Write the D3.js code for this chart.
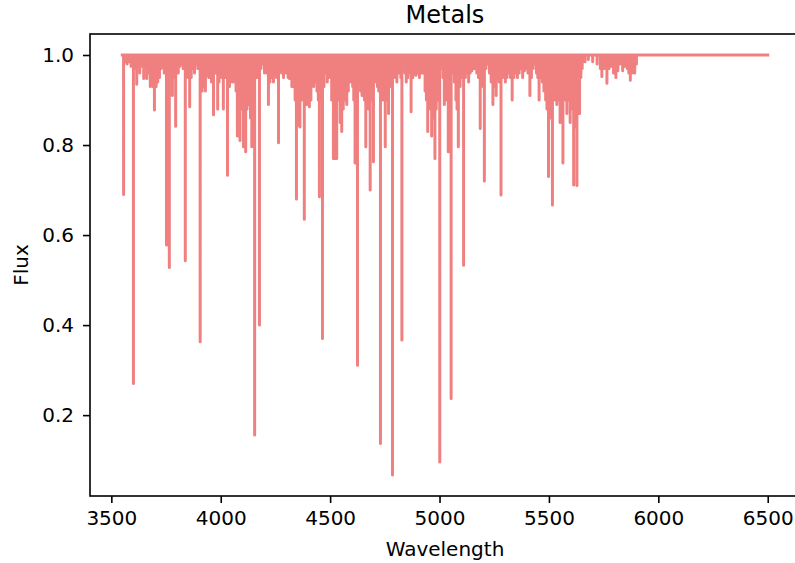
<!DOCTYPE html>
<html><head><meta charset="utf-8">
<script src="https://cdn.jsdelivr.net/npm/d3@7"></script>
<style>
body{margin:0;background:#fff}
svg{display:block}
text{font-family:"DejaVu Sans",sans-serif;fill:#000}
</style>
</head><body>
<svg id="chart" width="795" height="563"></svg>
<script>
// ---------------- data ----------------
const chartTitle = "Metals";
const xLabel = "Wavelength";
const yLabel = "Flux";
const xTickValues = [3500, 4000, 4500, 5000, 5500, 6000, 6500];
const yTickValues = [0.2, 0.4, 0.6, 0.8, 1.0];
const spectrumRange = [3550, 6500];   // first / last wavelength of the spectrum
const continuumFlux = 1.0;

// absorption lines: centre wavelength and minimum flux
const lineWavelength = [
 3556,3563,3572,3580,3590,3601,3610,3616,3623,3630,3640,3648,3655,3662,3670,3678,3685,3690,3697,
 3705,3712,3720,3728,3735,3742,3752,3758,3765,3772,3779,3786,3794,3800,3806,3813,3820,3828,3838,3845,3851,3858,3865,3872,3880,3888,3895,
 3906,3915,3922,3930,3938,3945,3952,3958,3967,3975,3986,3992,3998,4005,4012,4020,4026,4031,4040,4047,4053,4058,4064,4070,
 4076,4082,4088,4095,4099,4104,4109,4114,4120,4125,4130,4136,4142,4148,4155,
 4165,4177,4184,4190,4200,4206,4212,4218,4225,4232,4241,4248,4255,4264,4270,4278,4287,4294,4300,4308,4314,4320,4325,
 4333,4340,4346,4352,4356,4362,4370,4375,4382,4392,4398,4405,4412,4418,4425,4433,4440,4446,4451,4458,4465,
 4472,4480,4487,4494,4500,4507,4515,4522,4530,4540,4546,4553,4560,4567,4576,4583,4590,4596,4603,4608,4614,4625,
 4632,4639,4646,4652,4657,4663,4670,4676,4683,4690,4698,4705,4710,4716,4722,4730,4740,4745,4752,4758,4767,4773,4779,4785,4792,4798,4805,4812,4818,4823,4828,
 4835,4842,4848,4855,4862,4870,4878,4885,4892,4900,4908,4915,4922,4928,4934,4940,4946,4952,4958,4964,4970,4979,4985,4992,5001,
 5010,5016,5022,5028,5034,5040,5046,5053,5060,5068,5075,5080,5086,5094,5100,5110,5118,5125,5133,5140,5148,5155,5162,5170,5178,
 5186,5192,5198,5205,5212,5220,5228,5236,5244,5250,5259,5266,5273,5281,5288,5295,5301,5308,5316,5324,5332,5340,5348,5356,5364,5372,5380,5388,5396,5404,5413,5420,5428,5436,5443,5449,5455,5462,5470,5477,5485,5491,5498,
 5505,5510,5516,5523,5530,5536,5543,5551,5557,5564,5570,5576,5582,5589,5597,5604,5613,5620,5628,5635,5640,5646,5652,
 5665,5680,5700,5720,5735,5742,5752,5765,5775,5785,5795,5806,5815,5825,5837,5848,5858,5865,5872,5880,5892,5900
];
const lineFlux = [
 0.69,0.985,0.98,0.985,0.975,0.27,0.97,0.935,0.975,0.96,0.975,0.948,0.975,0.948,0.96,0.93,0.935,0.93,0.878,
 0.93,0.94,0.95,0.97,0.975,0.96,0.578,0.95,0.528,0.96,0.91,0.95,0.842,0.97,0.96,0.975,0.98,0.97,0.543,0.96,0.95,0.885,0.95,0.97,0.96,0.98,0.97,
 0.363,0.92,0.93,0.92,0.955,0.95,0.95,0.94,0.867,0.96,0.88,0.94,0.955,0.95,0.88,0.95,0.96,0.733,0.93,0.95,0.94,0.95,0.94,0.92,
 0.82,0.86,0.81,0.88,0.91,0.796,0.84,0.785,0.88,0.9,0.89,0.86,0.796,0.85,0.156,
 0.95,0.40,0.97,0.98,0.96,0.97,0.96,0.89,0.94,0.95,0.94,0.96,0.95,0.805,0.97,0.96,0.95,0.97,0.96,0.95,0.948,0.95,0.93,
 0.93,0.9,0.68,0.844,0.88,0.84,0.9,0.92,0.635,0.89,0.9,0.885,0.9,0.95,0.93,0.94,0.92,0.9,0.685,0.9,0.37,
 0.93,0.96,0.94,0.95,0.96,0.9,0.77,0.77,0.77,0.9,0.85,0.83,0.88,0.9,0.89,0.92,0.95,0.94,0.93,0.9,0.76,0.311,
 0.94,0.92,0.91,0.93,0.9,0.796,0.92,0.88,0.70,0.9,0.763,0.96,0.94,0.93,0.92,0.137,0.9,0.93,0.796,0.9,0.87,0.93,0.94,0.067,0.96,0.95,0.94,0.96,0.97,0.95,0.367,
 0.97,0.96,0.94,0.95,0.96,0.874,0.95,0.96,0.955,0.96,0.95,0.96,0.96,0.96,0.92,0.9,0.83,0.88,0.9,0.82,0.86,0.77,0.88,0.9,0.096,
 0.97,0.95,0.89,0.92,0.9,0.785,0.93,0.237,0.96,0.94,0.9,0.88,0.796,0.93,0.95,0.533,0.95,0.96,0.94,0.96,0.965,0.97,0.97,0.96,0.95,
 0.837,0.93,0.95,0.72,0.97,0.98,0.96,0.94,0.89,0.93,0.91,0.95,0.94,0.689,0.95,0.96,0.94,0.95,0.96,0.95,0.90,0.95,0.96,0.95,0.96,0.97,0.95,0.965,0.97,0.96,0.91,0.95,0.97,0.98,0.96,0.95,0.90,0.95,0.94,0.92,0.9,0.88,0.73,
 0.86,0.88,0.667,0.9,0.92,0.89,0.9,0.85,0.88,0.76,0.9,0.93,0.87,0.9,0.85,0.88,0.711,0.84,0.71,0.93,0.87,0.95,0.97,
 0.985,0.99,0.985,0.98,0.97,0.952,0.97,0.937,0.97,0.975,0.96,0.95,0.965,0.98,0.965,0.975,0.97,0.96,0.944,0.96,0.96,0.98
];

// ---------------- layout ----------------
const W = 795, H = 563;
const plot = {left: 90, right: 800, top: 34, bottom: 496};
const lineColor = "#f08080";

const svg = d3.select("#chart");

// spectrum points: continuum with a vertical dip at every line
const lines = d3.sort(lineWavelength.map((w, i) => ({w, f: lineFlux[i]})), d => d.w);
const pts = [{w: spectrumRange[0], f: continuumFlux}];
lines.forEach(l => {
  pts.push({w: l.w, f: continuumFlux}, {w: l.w, f: l.f}, {w: l.w, f: continuumFlux});
});
pts.push({w: spectrumRange[1], f: continuumFlux});

const [x0, x1] = d3.extent(pts, d => d.w);
const [y0, y1] = d3.extent(pts, d => d.f);
const x = d3.scaleLinear()
  .domain([x0 - 0.05 * (x1 - x0), x1 + 0.05 * (x1 - x0)])
  .range([plot.left, plot.right]);
const y = d3.scaleLinear()
  .domain([y0 - 0.05 * (y1 - y0), y1 + 0.05 * (y1 - y0)])
  .range([plot.bottom, plot.top]);

svg.append("defs").append("clipPath").attr("id", "clip")
  .append("rect").attr("x", plot.left).attr("y", plot.top)
  .attr("width", plot.right - plot.left).attr("height", plot.bottom - plot.top);

svg.append("path")
  .datum(pts)
  .attr("clip-path", "url(#clip)")
  .attr("fill", "none")
  .attr("stroke", lineColor)
  .attr("stroke-width", 3)
  .attr("stroke-linejoin", "round")
  .attr("stroke-linecap", "square")
  .attr("d", d3.line().x(d => x(d.w)).y(d => y(d.f)));

// axes
const xAxis = svg.append("g")
  .attr("transform", `translate(0,${plot.bottom})`)
  .call(d3.axisBottom(x).tickValues(xTickValues).tickFormat(d3.format("d")).tickSize(7).tickPadding(8));
const yAxis = svg.append("g")
  .attr("transform", `translate(${plot.left},0)`)
  .call(d3.axisLeft(y).tickValues(yTickValues).tickFormat(d3.format(".1f")).tickSize(7).tickPadding(9));
[xAxis, yAxis].forEach(g => {
  g.select(".domain").remove();
  g.selectAll(".tick line").attr("stroke", "#000").attr("stroke-width", 1.6);
  g.selectAll(".tick text").attr("font-size", 20).attr("font-family", "DejaVu Sans").attr("fill", "#000");
});

// spines
const spine = svg.append("g").attr("stroke", "#000").attr("stroke-width", 1.6).attr("fill", "none");
spine.append("rect").attr("x", plot.left).attr("y", plot.top)
  .attr("width", plot.right - plot.left).attr("height", plot.bottom - plot.top);

// labels
svg.append("text").attr("x", (plot.left + plot.right) / 2).attr("y", 23)
  .attr("text-anchor", "middle").attr("font-size", 24).text(chartTitle);
svg.append("text").attr("x", (plot.left + plot.right) / 2).attr("y", 556)
  .attr("text-anchor", "middle").attr("font-size", 20).text(xLabel);
svg.append("text").attr("transform", `translate(28,${(plot.top + plot.bottom) / 2}) rotate(-90)`)
  .attr("text-anchor", "middle").attr("font-size", 20).text(yLabel);
</script>
</body></html>
